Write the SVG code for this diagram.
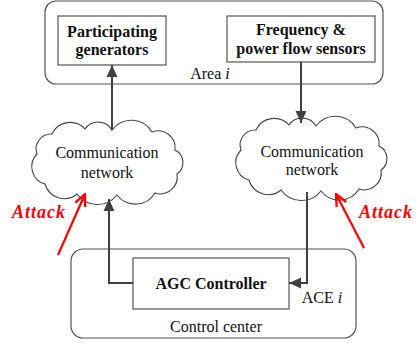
<svg xmlns="http://www.w3.org/2000/svg" width="417" height="343" viewBox="0 0 417 343">
<style>
.box{fill:#fff;stroke:#555;stroke-width:1.2}
.grp{fill:#fff;stroke:#555;stroke-width:1.2}
.cloud{fill:#fff;stroke:#444;stroke-width:1.1}
.t{font-family:"Liberation Serif",serif;font-size:16px;fill:#111;text-anchor:middle}
.b{font-weight:bold}
.conn{fill:none;stroke:#404040;stroke-width:2}
.atk{fill:none;stroke:#f00;stroke-width:2.2}
.atxt{font-family:"Liberation Serif",serif;font-size:18px;font-weight:bold;font-style:italic;fill:#f00;letter-spacing:1px}
</style>
<defs>
<marker id="ah" markerUnits="userSpaceOnUse" markerWidth="12" markerHeight="12" viewBox="-11 -5 11 10" refX="0" refY="0" orient="auto">
<path d="M-11,-5 L0,0 L-11,5 Z" fill="#404040"/>
</marker>
<marker id="ra" markerUnits="userSpaceOnUse" markerWidth="14" markerHeight="14" viewBox="-12 -6 13 12" refX="0" refY="0" orient="auto">
<path d="M-11,-5 L0,0 L-11,5" fill="none" stroke="#f00" stroke-width="2.2"/>
</marker>
<path id="cloudShape" d="M-70,-8 A15,15 0 0 1 -55,-28 A20,20 0 0 1 -22,-33 A16,16 0 0 1 5,-32 A24,24 0 0 1 45,-30 A17,17 0 0 1 68,-12 A14,14 0 0 1 70,12 A17,17 0 0 1 48,31 A23,23 0 0 1 10,33 A25,25 0 0 1 -30,32 A20,20 0 0 1 -62,22 A18,18 0 0 1 -70,-8 Z"/>
</defs>

<g id="area">
<rect class="grp" x="45" y="1" width="338" height="83" rx="11"/>
<text class="t" x="210" y="79">Area <tspan font-style="italic">i</tspan></text>
</g>
<g id="generators">
<rect class="box" x="58" y="16" width="108" height="49"/>
<text class="t b" x="112" y="37">Participating</text>
<text class="t b" x="112" y="55">generators</text>
</g>
<g id="sensors">
<rect class="box" x="227" y="16" width="148" height="46"/>
<text class="t b" x="301" y="35">Frequency &amp;</text>
<text class="t b" x="301" y="54">power flow sensors</text>
</g>
<g id="cloudLeft">
<use href="#cloudShape" class="cloud" transform="translate(107,162)"/>
<text class="t" x="107" y="158">Communication</text>
<text class="t" x="107" y="178">network</text>
</g>
<g id="cloudRight">
<use href="#cloudShape" class="cloud" transform="translate(311,158)"/>
<text class="t" x="312" y="157">Communication</text>
<text class="t" x="312" y="175">network</text>
</g>
<g id="controlCenter">
<rect class="grp" x="71" y="249" width="285" height="89" rx="12"/>
<text class="t" x="216" y="332">Control center</text>
</g>
<g id="agc">
<rect class="box" x="133" y="258" width="156" height="51"/>
<text class="t b" x="211" y="289">AGC Controller</text>
</g>
<g id="aceLabel">
<text class="t" x="322" y="303">ACE <tspan font-style="italic">i</tspan></text>
</g>
<g id="attackLeft">
<text class="atxt" x="12" y="218">Attack</text>
</g>
<g id="attackRight">
<text class="atxt" x="359" y="218">Attack</text>
</g>
<g id="connectors">
<path class="conn" d="M112,130 V65" marker-end="url(#ah)"/>
<path class="conn" d="M301,62 V123" marker-end="url(#ah)"/>
<path class="conn" d="M133,283 H109 V199" marker-end="url(#ah)"/>
<path class="conn" d="M307,192 V283 H289" marker-end="url(#ah)"/>
<path class="atk" d="M58,255 L85,194" marker-end="url(#ra)"/>
<path class="atk" d="M364,248 L336,194" marker-end="url(#ra)"/>
</g>
</svg>
